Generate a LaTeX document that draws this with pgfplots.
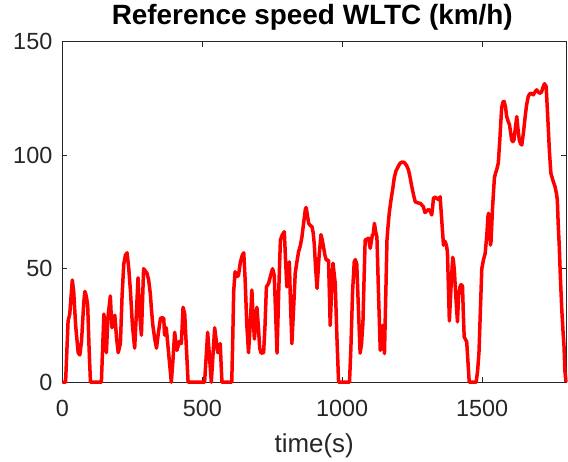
\documentclass[border=0pt]{standalone}
\usepackage{fontspec}
\setmainfont{Liberation Sans}
\usepackage{pgfplots}
\pgfplotsset{compat=1.18}
\usetikzlibrary{calc}
\definecolor{axgray}{RGB}{38,38,38}
\begin{document}
\begin{tikzpicture}
\begin{axis}[
  width=503.5bp, height=340.5bp, scale only axis,
  xmin=0, xmax=1800, ymin=0, ymax=150,
  xtick={0,500,1000,1500}, ytick={0,50,100,150},
  tick align=inside, major tick length=5bp,
  tick style={axgray, line width=0.8bp},
  axis line style={axgray, line width=0.8bp},
  /pgf/number format/assume math mode=true,
  /pgf/number format/set thousands separator={},
  tick label style={font=\fontsize{23.5}{27}\selectfont, text=axgray, inner sep=0pt},
  xticklabel style={anchor=base, yshift=-34.3bp},
  yticklabel style={anchor=east, xshift=-10bp},
  xlabel={time(s)},
  xlabel style={at={(axis description cs:0.5,0)}, anchor=base, yshift=-70.7bp, inner sep=0pt, font=\fontsize{26}{30}\selectfont, text=axgray},
  title={Reference speed WLTC (km/h)},
  title style={at={(axis description cs:0.5,1)}, anchor=base, yshift=11.7bp, xshift=-2bp, inner sep=0pt, font=\bfseries\fontsize{28}{32}\selectfont},
  clip=false,
]
\addplot[red, line width=3.5bp, line join=round] table {
t v
0 0
11 0
20 27
26 30
35 45
40 40
47 25
56 13
62 12
68 18
76 35
80 40
85 38
90 34
95 15
100 0
139 0
148 30
153 20
157 13
162 28
171 38
174 30
177 24
182 28
187 29.5
193 20
199 13
207 17
213 38
219 52
225 56
231 57
237 50
243 40
250 25
258 15
264 30
270 46
276 30
282 20.7
290 50
296 49
302 48
308 45
314 39
318 32
323 25
330 19
336 15
343 22
350 28
356 28.5
362 28
365 20.7
371 24
380 12
389 0
395 10
401 22
409 14
418 18
425 17
431 33
437 30
443 15
449 0
508 0
519 22
525 12
532 0
538 12
544 24
550 18
555 13
564 17
567 8
570 0
605 0
608 15
612 40
617 48.7
623 46.5
629 47
636 53
643 56
648 57
653 45
659 25
665 13
671 25
677 40.6
681 30
686 19
690 25
695 33
700 25
705 15
710 12.8
719 13
724 25
729 42
737 43.6
744 47
751 50
757 47
762 30
767 12.8
773 40
779 62.6
786 65
793 66.3
797 55
802 42
806 48
811 53
815 35
820 17
826 32
832 48
838 53
844 57.5
850 60
856 64
860 68
864 72
868 76
871 77
875 74
880 70
886 69
892 68.5
896 66
900 61
905 50
910 41.3
917 55
924 65
928 63
933 59.7
938 56
943 53.8
951 53.8
954 40
957 25
962 40
967 52.4
971 48
975 43.5
981 20
987 0
1026 0
1031 15
1037 40
1043 53
1047 54
1052 52
1058 32
1064 12.8
1069 17
1074 26
1078 45
1082 62.6
1088 63
1094 63.4
1100 59
1104 62
1108 65
1111 65
1115 70
1120 66
1124 64
1130 38
1136 14
1140 20
1144 25
1148 18
1151 12.6
1156 40
1160 62.6
1164 69
1168 74.4
1174 80
1180 84.7
1186 90
1192 93
1200 95
1207 96.5
1215 97
1222 96.8
1230 95.5
1237 93.5
1243 90
1249 86
1255 82.5
1261 79.5
1270 79
1279 78.8
1285 78
1290 77.3
1296 74.7
1302 75.5
1308 76
1314 75.5
1320 73.7
1324 78
1326 81
1332 81.5
1338 81
1344 80.5
1350 81.7
1356 71
1362 60.4
1368 62
1373 60
1376 57.5
1379 45
1383 27
1389 42
1395 55
1398 53
1401 49
1406 38
1412 26.6
1416 38
1421 42
1425 43
1430 42.3
1433 30
1436 20
1440 19
1445 17.8
1449 10
1454 0
1479 0
1484 5
1489 13.4
1494 32
1499 50
1505 54
1511 56.7
1517 65
1521 73
1523 74.4
1526 70
1530 60.4
1532 62
1537 76
1544 90
1548 92
1552 93.5
1558 96.5
1564 108
1570 121
1575 123.5
1579 123.7
1584 121
1588 117
1593 115
1598 113.4
1602 110
1606 106.7
1610 106
1614 106.7
1619 112
1624 117
1628 112
1633 106.7
1638 105
1642 104.5
1648 110
1654 117
1659 122
1665 125.8
1670 127
1675 127.3
1683 126.6
1690 128
1695 128.8
1700 128
1705 127.3
1710 127.5
1713 128
1718 130
1723 131.5
1729 130.3
1733 121
1737 111.2
1741 101
1746 92
1753 89
1761 86
1766 83
1769 80.3
1772 70
1776 59.7
1780 46
1785 31.8
1790 21
1793 15.6
1796 5
1800 0
};
\end{axis}
\path ($(current axis.south west)+(-62.5bp,-79.7bp)$) rectangle ($(current axis.north east)+(2bp,41.7bp)$);
\end{tikzpicture}
\end{document}
